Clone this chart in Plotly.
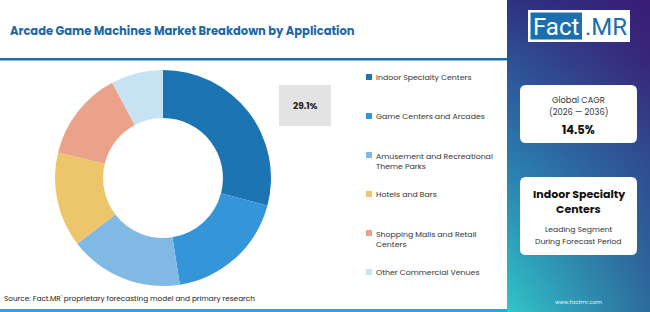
import base64
import plotly.graph_objects as go

# ---- data ----
categories = ["Indoor Specialty Centers", "Game Centers and Arcades",
              "Amusement and Recreational Theme Parks", "Hotels and Bars",
              "Shopping Malls and Retail Centers", "Other Commercial Venues"]
legend_labels = ["Indoor Specialty Centers", "Game Centers and Arcades",
                 "Amusement and Recreational<br>Theme Parks", "Hotels and Bars",
                 "Shopping Malls and Retail<br>Centers", "Other Commercial Venues"]
shares = [29.1, 18.4, 17.1, 14.2, 13.4, 7.8]
colors = ["#1c74b2", "#3496d8", "#7fb9e4", "#edc56b", "#eaa38a", "#c7e3f3"]
title_text = "Arcade Game Machines Market Breakdown by Application"
callout_text = "29.1%"
cagr_lines = ["Global CAGR", "(2026 \u2014 2036)"]
cagr_value = "14.5%"
lead_lines = ["Indoor Specialty", "Centers"]
caption_lines = ["Leading Segment", "During Forecast Period"]
source_text = "Source: Fact.MR' proprietary forecasting model and primary research"
site_text = "www.factmr.com"

W, H = 650, 312
FONT = "Poppins, Open Sans, sans-serif"

def fx(px):
    return px / W

fig = go.Figure()

cx, cy, r = 163, 178, 108
fig.add_trace(go.Pie(
    labels=categories, values=shares, sort=False, direction="clockwise",
    rotation=0, hole=0.555, textinfo="none", hoverinfo="label+percent",
    marker=dict(colors=colors, line=dict(color="white", width=0)),
    domain=dict(x=[fx(cx - r), fx(cx + r)], y=[1 - (cy + r) / H, 1 - (cy - r) / H]),
    showlegend=False,
))

shapes = []
annotations = []

def ann(text, x, y, size, color="#222", bold=False, xanchor="center", align="center", family=FONT):
    t = f"<b>{text}</b>" if bold else text
    annotations.append(dict(text=t, x=x, y=y, xref="x", yref="y", showarrow=False,
                            xanchor=xanchor, yanchor="middle", align=align,
                            font=dict(family=family, size=size, color=color)))

def rect(x0, y0, x1, y1, color, layer="above"):
    shapes.append(dict(type="rect", xref="x", yref="y", x0=x0, x1=x1, y0=y0, y1=y1,
                       fillcolor=color, line=dict(width=0), layer=layer))

# title + lines
ann(title_text, 8, 31, 11.5, "#1c67a3", True, xanchor="left")
rect(0, 58, 507, 60.5, "#1d6fae")
rect(0, 309, 507, 312, "#1aaedc")

# callout box
rect(279, 85, 331, 126, "#e3e3e3", layer="below")
ann(callout_text, 305, 106, 9, "#222", True)

# legend
leg_y = [77, 116, 161, 194, 239, 272]
for lab, col, yy in zip(legend_labels, colors, leg_y):
    nlines = lab.count("<br>") + 1
    top = yy - (nlines - 1) * 6
    rect(366, top - 3, 372, top + 3, col)
    ann(lab, 374, yy, 7.8, "#333", xanchor="left", align="left")

# source
ann(source_text, 2, 298, 7.3, "#222", xanchor="left")

# right gradient panel via svg image
svg = ('<svg xmlns="http://www.w3.org/2000/svg" width="143" height="312">'
       '<defs>'
       '<linearGradient id="l" x1="0" y1="0" x2="0" y2="1">'
       '<stop offset="0" stop-color="#2c3380"/>'
       '<stop offset="0.15" stop-color="#2f4c93"/>'
       '<stop offset="0.5" stop-color="#2b7cae"/>'
       '<stop offset="1" stop-color="#31c6c9"/>'
       '</linearGradient>'
       '<linearGradient id="r" x1="0" y1="0" x2="0" y2="1">'
       '<stop offset="0" stop-color="#3a1d76"/>'
       '<stop offset="0.2" stop-color="#382679"/>'
       '<stop offset="0.5" stop-color="#304a8f"/>'
       '<stop offset="1" stop-color="#2d6b9d"/>'
       '</linearGradient>'
       '<linearGradient id="m" x1="0" y1="0" x2="1" y2="0">'
       '<stop offset="0" stop-color="white" stop-opacity="0"/>'
       '<stop offset="1" stop-color="white" stop-opacity="1"/>'
       '</linearGradient>'
       '<mask id="k"><rect width="143" height="312" fill="url(#m)"/></mask>'
       '</defs>'
       '<rect width="143" height="312" fill="url(#l)"/>'
       '<rect width="143" height="312" fill="url(#r)" mask="url(#k)"/></svg>')
src = "data:image/svg+xml;base64," + base64.b64encode(svg.encode()).decode()
fig.add_layout_image(dict(source=src, xref="paper", yref="paper", x=fx(507), y=1,
                          sizex=fx(143), sizey=1, xanchor="left", yanchor="top",
                          sizing="stretch", layer="below"))

# logo
rect(528, 10, 630, 42, "white")
rect(530.5, 12.5, 582, 39.5, "#1b6fae")
ann("Fact", 556, 27, 24, "white", family="Roboto, sans-serif")
ann(".MR", 606, 27, 24, "#1b6fae", family="Roboto, sans-serif")

# cards
def card(x0, y0, x1, y1, rad=6):
    path = (f"M {x0+rad},{y0} L {x1-rad},{y0} Q {x1},{y0} {x1},{y0+rad} L {x1},{y1-rad} "
            f"Q {x1},{y1} {x1-rad},{y1} L {x0+rad},{y1} Q {x0},{y1} {x0},{y1-rad} "
            f"L {x0},{y0+rad} Q {x0},{y0} {x0+rad},{y0} Z")
    return dict(type="path", xref="x", yref="y", path=path, fillcolor="white", line=dict(width=0))

shapes.append(card(520, 85, 637, 143))
shapes.append(card(520, 177, 637, 255))

ann(cagr_lines[0], 578.5, 100, 8.3, "#333")
ann(cagr_lines[1], 578.5, 112, 8.3, "#333")
ann(cagr_value, 578.5, 130, 11.5, "#111", True)
ann(lead_lines[0], 578.5, 193.5, 11, "#111", True)
ann(lead_lines[1], 578.5, 209, 11, "#111", True)
ann(caption_lines[0], 578.5, 229, 7.7, "#333")
ann(caption_lines[1], 578.5, 241, 7.7, "#333")
ann(site_text, 578.5, 302, 5.5, "#e8f4f8")

fig.update_layout(
    width=W, height=H, margin=dict(l=0, r=0, t=0, b=0),
    paper_bgcolor="white", plot_bgcolor="rgba(0,0,0,0)",
    xaxis=dict(range=[0, W], visible=False, fixedrange=True),
    yaxis=dict(range=[H, 0], visible=False, fixedrange=True),
    shapes=shapes, annotations=annotations, showlegend=False,
)

fig.write_html("out.html")
